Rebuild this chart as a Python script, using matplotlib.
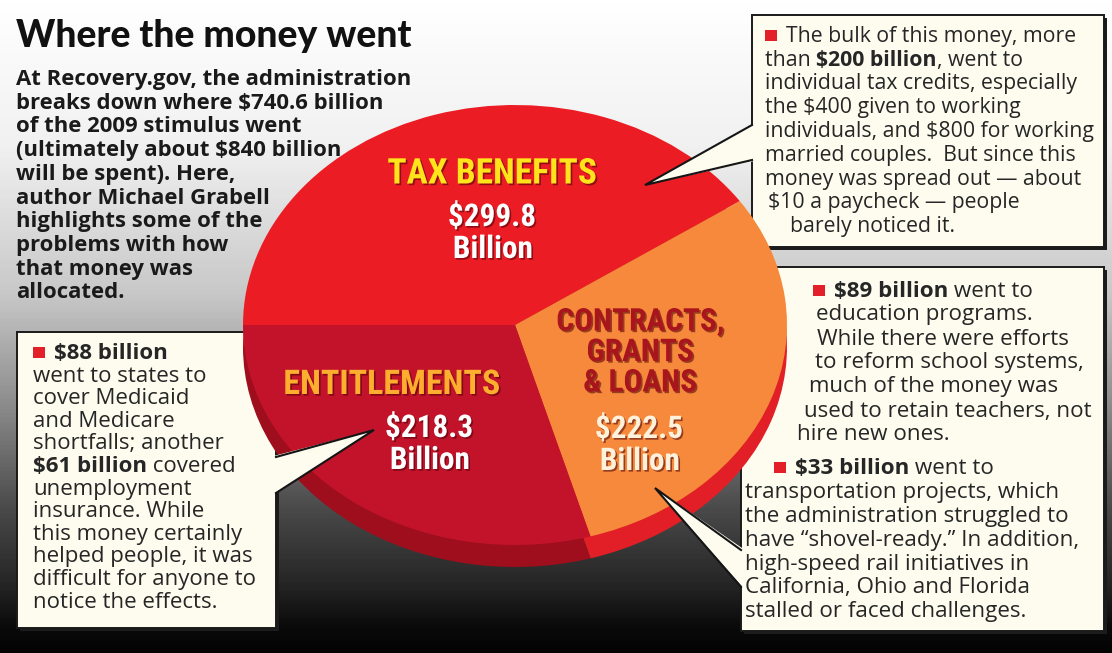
import numpy as np
import matplotlib
matplotlib.use("Agg")
import matplotlib.pyplot as plt
from matplotlib.patches import Rectangle, Polygon
from matplotlib.colors import LinearSegmentedColormap
import matplotlib.patheffects as pe

plt.rcParams["text.parse_math"] = False

# ---- data -------------------------------------------------------------
categories = ["TAX BENEFITS", "CONTRACTS,\nGRANTS\n& LOANS", "ENTITLEMENTS"]
values = [299.8, 222.5, 218.3]          # $ billion
face_colors = ["#EC1C24", "#F6893B", "#C3132B"]
side_colors = ["#B8121B", "#E21F26", "#9E0E1C"]

title = "Where the money went"
intro_lines = [
    "At Recovery.gov, the administration",
    "breaks down where $740.6 billion",
    "of the 2009 stimulus went",
    "(ultimately about $840 billion",
    "will be spent). Here,",
    "author Michael Grabell",
    "highlights some of the",
    "problems with how",
    "that money was",
    "allocated.",
]
tax_note = [
    [("b", ""), ("r", "The bulk of this money, more")],
    [("r", "than "), ("B", "$200 billion"), ("r", ", went to")],
    [("r", "individual tax credits, especially")],
    [("r", "the $400 given to working")],
    [("r", "individuals, and $800 for working")],
    [("r", "married couples.  But since this")],
    [("r", "money was spread out \u2014 about")],
    [("r", "$10 a paycheck \u2014 people")],
    [("r", "barely noticed it.")],
]
ent_note = [
    [("b", ""), ("B", "$88 billion")],
    [("r", "went to states to")],
    [("r", "cover Medicaid")],
    [("r", "and Medicare")],
    [("r", "shortfalls; another")],
    [("B", "$61 billion"), ("r", " covered")],
    [("r", "unemployment")],
    [("r", "insurance. While")],
    [("r", "this money certainly")],
    [("r", "helped people, it was")],
    [("r", "difficult for anyone to")],
    [("r", "notice the effects.")],
]
con_note = [
    [("b", ""), ("B", "$89 billion"), ("r", " went to")],
    [("r", "education programs.")],
    [("r", "While there were efforts")],
    [("r", "to reform school systems,")],
    [("r", "much of the money was")],
    [("r", "used to retain teachers, not")],
    [("r", "hire new ones.")],
    [("b", ""), ("B", "$33 billion"), ("r", " went to")],
    [("r", "transportation projects, which")],
    [("r", "the administration struggled to")],
    [("r", "have \u201cshovel-ready.\u201d In addition,")],
    [("r", "high-speed rail initiatives in")],
    [("r", "California, Ohio and Florida")],
    [("r", "stalled or faced challenges.")],
]

# ---- figure -----------------------------------------------------------
W, H = 1112, 653
fig = plt.figure(figsize=(W / 100, H / 100), dpi=100)
ax = fig.add_axes([0, 0, 1, 1])
ax.set_xlim(0, W)
ax.set_ylim(H, 0)
ax.axis("off")

# vertical backdrop gradient
stops = [(0.0, "#ffffff"), (0.22, "#f1f1f1"), (0.45, "#c8c8c8"),
         (0.62, "#8c8c8c"), (0.78, "#4a4a4a"), (0.90, "#242424"),
         (0.962, "#0a0a0a"), (1.0, "#040404")]
bg_cmap = LinearSegmentedColormap.from_list("bg", stops)
grad = np.linspace(0, 1, 400).reshape(-1, 1)
ax.imshow(grad, cmap=bg_cmap, extent=[0, W, H, 0], aspect="auto", zorder=0)

BOX_FACE = "#FDFCEF"
TXT = "#262626"


def box(x0, y0, x1, y1):
    ax.add_patch(Rectangle((x0 + 3, y0 + 3), x1 - x0, y1 - y0,
                           facecolor="#1c1c1c", edgecolor="none", zorder=2))
    ax.add_patch(Rectangle((x0, y0), x1 - x0, y1 - y0, facecolor=BOX_FACE,
                           edgecolor="#1a1a1a", linewidth=1.4, zorder=3))


box(752, 15, 1104, 247)
box(17, 332, 276, 628)
box(741, 267, 1104, 631)

# ---- pie (face + side rim) ------------------------------------------
cx0, cx1, cy0, cy1 = 243, 787, 105, 545
rim = 22


def pie_axes(dy):
    return fig.add_axes([cx0 / W, (H - cy1 - dy) / H, (cx1 - cx0) / W, (cy1 - cy0) / H])


rax = pie_axes(rim)
rax.pie(values, colors=side_colors, startangle=180, counterclock=False,
        wedgeprops=dict(linewidth=0))
rax.set_aspect("auto")
rax.set_xlim(-1, 1)
rax.set_ylim(-1, 1)
rax.axis("off")

pax = pie_axes(0)
pax.pie(values, colors=face_colors, startangle=180, counterclock=False,
        wedgeprops=dict(linewidth=0))
pax.set_aspect("auto")
pax.set_xlim(-1, 1)
pax.set_ylim(-1, 1)
pax.axis("off")

# overlay for callouts and text
top = fig.add_axes([0, 0, 1, 1])
top.set_xlim(0, W)
top.set_ylim(H, 0)
top.axis("off")
top.patch.set_alpha(0)


def pointer(bx, y1, y2, tip, side):
    pad = 2.5 * side
    top.add_patch(Polygon([(bx + pad, y1 - 1), tip, (bx + pad, y2 + 1)],
                          closed=True, facecolor=BOX_FACE, edgecolor="none", zorder=4))
    top.plot([bx, tip[0], bx], [y1, tip[1], y2], color="#151515", lw=1.5,
             solid_joinstyle="miter", zorder=5)


pointer(752, 125, 160, (645, 185), +1)
pointer(276, 457, 493, (374, 430), -1)
pointer(741, 550, 587, (655, 488), +1)

# ---- text -------------------------------------------------------------
BODY = ["Open Sans", "DejaVu Sans"]
renderer = fig.canvas.get_renderer()

top.text(16, 47, title, fontsize=26.8, fontweight=900, family=["Lato", "Open Sans", "DejaVu Sans"],
         color="#111111", ha="left", va="baseline")
for i, line in enumerate(intro_lines):
    top.text(16, 85 + i * 23.7, line, fontsize=15.9, fontweight="bold", family=BODY,
             color="#1a1a1a", ha="left", va="baseline")


def rich_line(x, y, parts, size):
    for kind, s in parts:
        if kind == "b":
            top.add_patch(Rectangle((x, y - 12), 12, 11, facecolor="#E3202A",
                                    edgecolor="none", zorder=6))
            x += 21
            continue
        t = top.text(x, y, s, fontsize=size, family=BODY, color=TXT,
                     fontweight="bold" if kind == "B" else "normal",
                     ha="left", va="baseline", zorder=6)
        x += t.get_window_extent(renderer).width


def note(lines, xs, ys, size):
    for parts, x, y in zip(lines, xs, ys):
        rich_line(x, y, parts, size)


note(tax_note, [765, 765, 765, 765, 765, 765, 765, 768, 790],
     [42 + 23.75 * i for i in range(9)], 15.3)
note(ent_note, [33] * 12, [359 + 22.6 * i for i in range(12)], 16.0)
note(con_note,
     [813, 816, 817, 815, 809, 804, 797, 774, 745, 745, 745, 745, 745, 745],
     [297, 320, 345, 368, 392, 417, 440, 474, 498, 522, 546, 570, 593, 617], 16.1)

# pie labels
LBL = ["Roboto Condensed", "Barlow Condensed", "DejaVu Sans"]
shadow = [pe.SimplePatchShadow(offset=(1.2, -1.2), shadow_rgbFace="#4a0008", alpha=0.55),
          pe.Normal()]
name_pos = [(492, 174), (640, 352), (392, 385)]
name_size = [25.5, 22.5, 24.5]
name_col = ["#FFE41C", "#A9151D", "#FDAE2E"]
val_pos = [(492, 217), (639, 429), (429, 428)]
val_col = ["#FFFFFF", "#FFF1DA", "#FFFFFF"]
for cat, v, (nx, ny), ns, nc, (vx, vy), vc in zip(categories, values, name_pos, name_size,
                                                  name_col, val_pos, val_col):
    top.text(nx, ny, cat, fontsize=ns, fontweight="bold", family=LBL, color=nc,
             ha="center", va="center", linespacing=1.02, zorder=6,
             path_effects=shadow)
    top.text(vx, vy, f"${v:.1f}", fontsize=22.5, fontweight="bold", family=LBL, color=vc,
             ha="center", va="center", zorder=6, path_effects=shadow)
    top.text(vx + 1, vy + 32, "Billion", fontsize=22.5, fontweight="bold", family=LBL,
             color=vc, ha="center", va="center", zorder=6, path_effects=shadow)

fig.savefig("out.png", dpi=100)
